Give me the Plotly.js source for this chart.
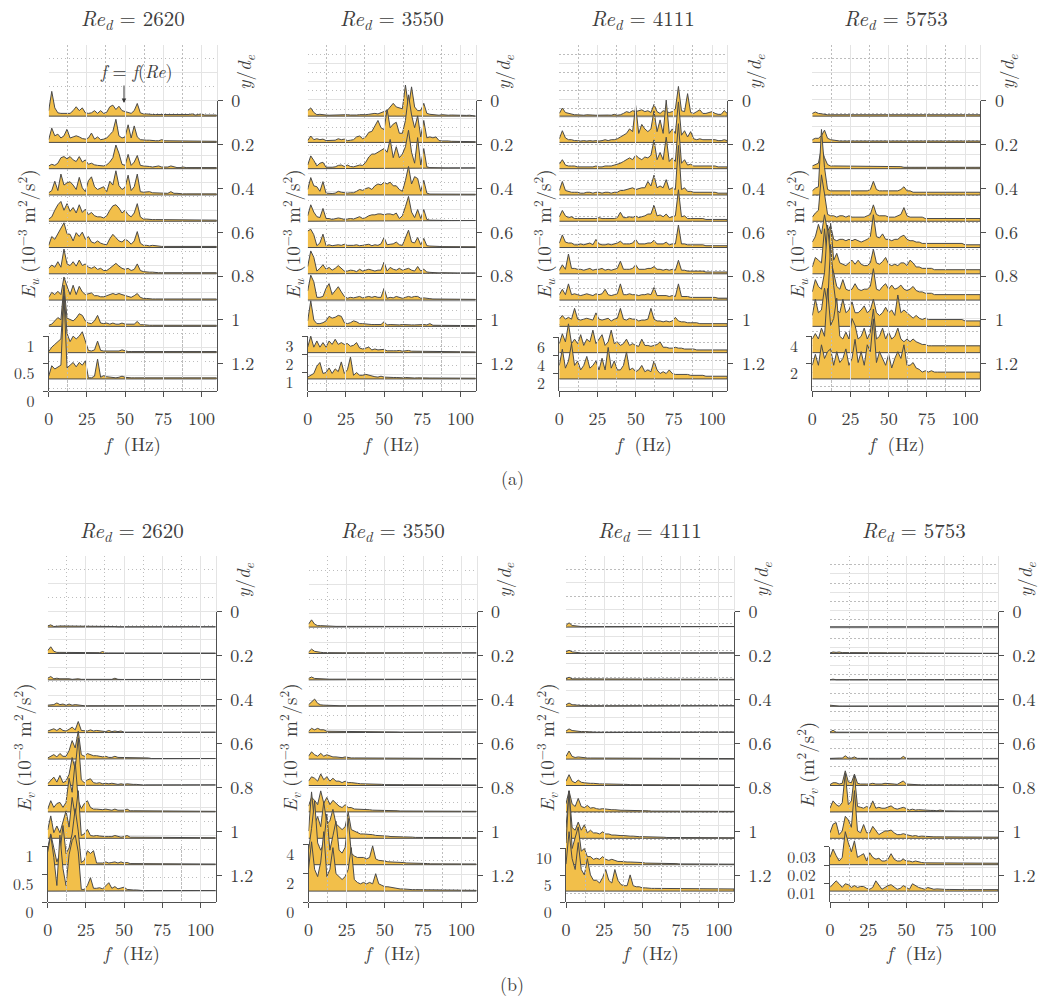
<!DOCTYPE html>
<html>
<head>
<meta charset="utf-8">
<script src="https://cdn.plot.ly/plotly-3.0.1.min.js"></script>
<style>html,body{margin:0;padding:0;background:#fff;}#chart{width:1041px;height:997px;}</style>
</head>
<body>
<div id="chart"></div>
<script>
// ---------------- DATA ----------------
const freq = [0,2,4,6,8,10,12,14,16,18,20,22,24,26,28,30,32,34,36,38,40,42,44,46,48,50,52,54,56,58,60,62,64,66,68,70,72,74,76,78,80,82,84,86,88,90,92,94,96,98,100,102,104,106,108,110];
const ydeRows = [0.07,0.19,0.31,0.43,0.55,0.67,0.79,0.91,1.03,1.15,1.27];
const reynolds = ['2620','3550','4111','5753'];
const ydeTickVals = [0,0.2,0.4,0.6,0.8,1,1.2];
const ydeTickText = ['0','0.2','0.4','0.6','0.8','1','1.2'];
const eTickVals = [[0,0.5,1],[1,2,3],[2,4,6],[2,4],[0,0.5,1],[0,2,4],[0,5,10],[0.01,0.02,0.03]];
const eTickText = [['0','0.5','1'],['1','2','3'],['2','4','6'],['2','4'],['0','0.5','1'],['0','2','4'],['0','5','10'],['0.01','0.02','0.03']];

// E_u, Re_d = 2620 (10^-3 m^2/s^2)
const Eu_2620 = [
[0.1,0.45,0.15,0.06,0.05,0.05,0.06,0.05,0.1,0.17, 0.1,0.15,0.06,0.05,0.06,0.1,0.05,0.1,0.05,0.07, 0.17,0.2,0.12,0.18,0.1,0.08,0.06,0.05,0.1,0.23, 0.06,0.04,0.04,0.03,0.03,0.03,0.03,0.03,0.02,0.03, 0.03,0.02,0.03,0.02,0.03,0.02,0.03,0.04,0.02,0.03, 0.04,0.02,0.02,0.02,0.02,0.02],
[0.05,0.26,0.12,0.15,0.08,0.12,0.24,0.08,0.1,0.12, 0.1,0.07,0.06,0.08,0.17,0.06,0.1,0.05,0.06,0.08, 0.14,0.2,0.42,0.12,0.08,0.1,0.32,0.08,0.3,0.1, 0.05,0.04,0.04,0.04,0.03,0.03,0.03,0.05,0.03,0.03, 0.03,0.02,0.03,0.02,0.02,0.03,0.02,0.02,0.02,0.02, 0.02,0.02,0.02,0.02,0.02,0.02],
[0.05,0.08,0.06,0.1,0.2,0.22,0.18,0.22,0.16,0.13, 0.22,0.12,0.16,0.08,0.1,0.07,0.06,0.06,0.05,0.07, 0.12,0.2,0.43,0.28,0.08,0.06,0.26,0.06,0.12,0.24, 0.06,0.05,0.05,0.04,0.03,0.04,0.05,0.03,0.03,0.03, 0.05,0.03,0.02,0.02,0.03,0.02,0.02,0.02,0.03,0.02, 0.02,0.02,0.02,0.02,0.02,0.02],
[0.04,0.08,0.25,0.08,0.38,0.18,0.22,0.24,0.18,0.1, 0.32,0.13,0.06,0.26,0.33,0.15,0.1,0.12,0.15,0.06, 0.25,0.18,0.44,0.17,0.1,0.14,0.36,0.08,0.15,0.38, 0.06,0.05,0.05,0.06,0.04,0.04,0.03,0.03,0.03,0.03, 0.06,0.03,0.03,0.02,0.02,0.02,0.02,0.02,0.02,0.02, 0.02,0.02,0.02,0.02,0.02,0.02],
[0.04,0.08,0.2,0.3,0.36,0.2,0.32,0.18,0.25,0.15, 0.3,0.16,0.22,0.12,0.16,0.1,0.08,0.08,0.06,0.1, 0.2,0.28,0.3,0.24,0.15,0.2,0.12,0.08,0.15,0.32, 0.08,0.04,0.04,0.03,0.03,0.03,0.03,0.03,0.02,0.02, 0.03,0.02,0.02,0.02,0.02,0.02,0.02,0.02,0.02,0.02, 0.02,0.02,0.02,0.02,0.02,0.02],
[0.04,0.2,0.15,0.25,0.33,0.45,0.25,0.24,0.12,0.27, 0.2,0.28,0.15,0.2,0.1,0.08,0.12,0.08,0.06,0.05, 0.16,0.24,0.18,0.12,0.1,0.15,0.12,0.06,0.12,0.29, 0.08,0.04,0.04,0.03,0.04,0.03,0.02,0.02,0.02,0.02, 0.03,0.02,0.02,0.02,0.02,0.02,0.02,0.02,0.02,0.02, 0.02,0.02,0.02,0.02,0.02,0.02],
[0.1,0.16,0.12,0.22,0.12,0.45,0.18,0.15,0.22,0.14, 0.25,0.15,0.18,0.12,0.1,0.13,0.08,0.1,0.06,0.06, 0.1,0.15,0.19,0.14,0.1,0.08,0.1,0.06,0.08,0.18, 0.06,0.04,0.03,0.03,0.03,0.02,0.02,0.02,0.02,0.02, 0.03,0.02,0.02,0.02,0.02,0.02,0.02,0.02,0.02,0.02, 0.02,0.02,0.02,0.02,0.02,0.02],
[0.05,0.14,0.1,0.16,0.1,0.42,0.25,0.1,0.27,0.1, 0.25,0.15,0.1,0.12,0.13,0.08,0.08,0.06,0.06,0.08, 0.1,0.12,0.1,0.12,0.1,0.08,0.06,0.05,0.08,0.12, 0.05,0.03,0.03,0.02,0.02,0.02,0.02,0.02,0.02,0.02, 0.02,0.02,0.02,0.02,0.02,0.02,0.02,0.02,0.02,0.02, 0.02,0.02,0.02,0.02,0.02,0.02],
[0.02,0.04,0.1,0.16,0.12,0.75,0.15,0.12,0.1,0.15, 0.23,0.2,0.1,0.06,0.05,0.1,0.2,0.06,0.05,0.06, 0.04,0.06,0.04,0.04,0.06,0.04,0.04,0.03,0.04,0.09, 0.03,0.03,0.02,0.02,0.02,0.02,0.02,0.03,0.02,0.02, 0.02,0.02,0.02,0.03,0.02,0.02,0.02,0.02,0.02,0.02, 0.02,0.02,0.02,0.02,0.02,0.02],
[0.02,0.1,0.15,0.2,0.25,1.1,0.35,0.2,0.3,0.25, 0.3,0.38,0.2,0.04,0.03,0.05,0.21,0.04,0.03,0.03, 0.03,0.03,0.03,0.03,0.05,0.03,0.02,0.02,0.02,0.02, 0.02,0.02,0.02,0.02,0.02,0.02,0.02,0.03,0.02,0.02, 0.02,0.02,0.02,0.02,0.02,0.02,0.02,0.02,0.02,0.02, 0.02,0.02,0.02,0.02,0.02,0.02],
[0.05,0.24,0.18,0.22,0.25,1.5,0.2,0.25,0.3,0.22, 0.3,0.25,0.33,0.02,0.02,0.05,0.36,0.03,0.06,0.04, 0.03,0.02,0.02,0.03,0.05,0.03,0.02,0.02,0.02,0.02, 0.02,0.02,0.02,0.02,0.02,0.02,0.02,0.02,0.02,0.02, 0.02,0.02,0.02,0.02,0.02,0.02,0.02,0.02,0.02,0.02, 0.02,0.02,0.02,0.02,0.02,0.02]
];

// E_u, Re_d = 3550 (10^-3 m^2/s^2)
const Eu_3550 = [
[0.3,0.45,0.2,0.08,0.1,0.06,0.06,0.05,0.06,0.05, 0.06,0.05,0.06,0.08,0.06,0.05,0.06,0.08,0.06,0.08, 0.1,0.12,0.15,0.12,0.2,0.25,0.3,0.5,0.7,0.5, 0.45,0.4,1.7,0.5,1.6,0.5,0.3,0.3,0.7,0.15, 0.1,0.08,0.06,0.05,0.08,0.05,0.05,0.06,0.05,0.05, 0.05,0.05,0.04,0.05,0.04,0.04],
[0.1,0.35,0.15,0.2,0.15,0.18,0.1,0.12,0.1,0.12, 0.2,0.15,0.18,0.1,0.12,0.15,0.3,0.35,0.2,0.3, 0.55,0.6,0.9,1.2,0.8,0.7,1.8,0.8,1.0,1.1, 0.5,0.5,1.2,2.6,1.5,0.8,1.45,0.3,1.2,0.25, 0.3,0.25,0.3,0.1,0.08,0.1,0.08,0.06,0.06,0.05, 0.06,0.05,0.05,0.04,0.05,0.04],
[0.2,0.7,0.45,0.15,0.3,0.35,0.08,0.06,0.08,0.1, 0.18,0.2,0.12,0.2,0.12,0.1,0.15,0.2,0.18,0.35, 0.64,0.8,0.8,0.9,1.0,1.1,0.9,1.6,0.6,1.2, 0.6,0.8,1.2,2.1,0.9,0.3,1.7,0.2,1.1,0.1, 0.06,0.05,0.05,0.04,0.05,0.04,0.04,0.04,0.04,0.04, 0.04,0.04,0.04,0.04,0.04,0.04],
[0.3,0.95,0.5,0.45,0.2,0.73,0.1,0.08,0.08,0.1, 0.2,0.15,0.12,0.1,0.12,0.12,0.2,0.3,0.25,0.35, 0.4,0.3,0.5,0.6,0.55,0.7,0.6,0.7,0.5,0.5, 0.3,0.2,0.8,1.56,0.6,1.0,0.9,0.2,0.8,0.1, 0.05,0.05,0.06,0.05,0.05,0.04,0.05,0.04,0.04,0.04, 0.04,0.04,0.04,0.04,0.04,0.04],
[0.3,0.9,0.5,0.25,0.2,0.7,0.15,0.15,0.1,0.12, 0.18,0.15,0.1,0.12,0.15,0.12,0.18,0.25,0.15,0.2, 0.3,0.35,0.35,0.4,0.4,0.35,0.4,0.4,0.35,0.45, 0.15,0.3,0.8,1.36,0.5,0.2,0.64,0.15,0.64,0.1, 0.06,0.05,0.05,0.05,0.04,0.05,0.04,0.04,0.04,0.04, 0.04,0.04,0.04,0.04,0.04,0.04],
[0.9,1.0,0.7,0.1,0.25,0.73,0.1,0.15,0.1,0.12, 0.15,0.12,0.18,0.12,0.1,0.12,0.15,0.1,0.12,0.15, 0.18,0.1,0.15,0.12,0.2,0.55,0.15,0.18,0.2,0.3, 0.15,0.12,0.5,0.95,0.3,0.25,0.55,0.15,0.5,0.1, 0.08,0.06,0.05,0.06,0.05,0.05,0.04,0.05,0.04,0.04, 0.04,0.04,0.04,0.04,0.04,0.04],
[0.4,1.25,0.9,0.15,0.3,0.5,0.25,0.35,0.2,0.3, 0.45,0.3,0.15,0.15,0.2,0.18,0.12,0.25,0.15,0.2, 0.25,0.2,0.15,0.2,0.2,0.64,0.15,0.35,0.25,0.2, 0.3,0.2,0.25,0.3,0.2,0.15,0.4,0.15,0.25,0.1, 0.08,0.06,0.06,0.05,0.06,0.05,0.05,0.05,0.04,0.04, 0.04,0.04,0.04,0.04,0.04,0.04],
[0.5,1.36,1.0,0.15,0.15,0.2,0.64,0.9,0.3,0.5, 0.73,0.45,0.2,0.1,0.15,0.12,0.15,0.2,0.12,0.15, 0.2,0.15,0.2,0.15,0.15,0.64,0.1,0.15,0.12,0.2, 0.15,0.1,0.15,0.2,0.15,0.2,0.2,0.1,0.12,0.08, 0.08,0.06,0.06,0.06,0.05,0.05,0.05,0.05,0.04,0.04, 0.04,0.04,0.04,0.04,0.04,0.04],
[0.3,1.4,0.35,0.15,0.15,0.2,0.3,0.55,0.45,0.5, 0.6,0.55,0.2,0.15,0.2,0.3,0.25,0.15,0.15,0.12, 0.12,0.1,0.1,0.08,0.1,0.25,0.08,0.1,0.08,0.1, 0.08,0.1,0.08,0.1,0.08,0.08,0.1,0.08,0.1,0.08, 0.15,0.06,0.06,0.08,0.05,0.05,0.05,0.05,0.05,0.05, 0.05,0.04,0.04,0.04,0.04,0.04],
[0.3,0.9,0.3,0.64,0.3,0.55,0.3,0.64,0.45,0.73, 0.45,0.55,0.45,0.5,0.35,0.4,0.55,0.25,0.2,0.25, 0.3,0.15,0.2,0.15,0.15,0.18,0.1,0.12,0.1,0.1, 0.12,0.08,0.1,0.12,0.08,0.08,0.06,0.06,0.06,0.06, 0.06,0.05,0.05,0.05,0.05,0.05,0.05,0.05,0.05,0.05, 0.05,0.05,0.05,0.04,0.04,0.04],
[0.1,0.2,0.3,0.7,0.9,0.3,0.35,0.6,0.3,0.55, 0.4,0.93,0.3,0.5,1.2,0.2,0.35,0.2,0.2,0.25, 0.2,0.15,0.12,0.1,0.15,0.1,0.08,0.1,0.08,0.08, 0.06,0.06,0.08,0.06,0.06,0.05,0.06,0.05,0.05,0.05, 0.05,0.05,0.05,0.05,0.05,0.05,0.05,0.05,0.05,0.05, 0.05,0.05,0.04,0.04,0.04,0.04]
];

// E_u, Re_d = 4111 (10^-3 m^2/s^2)
const Eu_4111 = [
[0.3,0.9,0.4,0.3,0.2,0.15,0.15,0.1,0.1,0.15, 0.1,0.12,0.1,0.12,0.15,0.1,0.12,0.1,0.2,0.1, 0.15,0.3,0.5,0.4,0.6,0.5,0.6,0.7,0.5,0.6, 0.4,1.3,0.5,0.3,0.6,0.5,0.4,0.5,0.8,3.3, 0.6,0.5,2.5,0.4,0.3,0.5,0.7,0.3,0.3,0.4, 0.5,0.3,0.2,0.2,0.6,0.3],
[0.4,1.3,0.5,0.3,0.3,0.2,0.2,0.15,0.2,0.15, 0.2,0.15,0.2,0.15,0.2,0.3,0.2,0.3,0.3,0.4, 0.6,0.8,1.0,1.5,1.2,4.1,1.0,2.0,1.5,1.2, 1.5,3.5,1.2,2.5,1.0,4.7,1.0,1.5,1.0,4.5, 0.8,1.3,0.6,1.2,0.4,0.3,0.4,0.3,0.3,0.3, 0.3,0.3,0.2,0.2,0.3,0.2],
[0.5,1.0,0.4,0.3,0.3,0.3,0.2,0.2,0.2,0.2, 0.2,0.2,0.3,0.2,0.2,0.3,0.3,0.3,0.4,0.5, 0.6,0.8,1.0,1.2,1.0,1.5,1.2,1.0,1.3,1.2, 1.5,3.2,1.0,1.8,1.0,3.5,0.8,1.2,0.8,5.0, 0.6,1.0,0.4,0.5,0.3,0.3,0.3,0.3,0.3,0.3, 0.3,0.3,0.2,0.2,0.2,0.2],
[0.5,1.5,0.5,0.4,0.3,0.3,0.3,0.2,0.2,0.3, 0.3,0.2,0.3,0.3,0.2,0.3,0.3,0.2,0.3,0.3, 0.5,0.5,0.6,0.7,0.8,0.6,0.7,0.8,0.8,1.5, 1.0,2.2,0.8,1.0,0.8,1.7,0.6,0.8,0.6,5.5, 0.6,0.8,0.4,0.4,0.3,0.3,0.3,0.3,0.3,0.3, 0.3,0.3,0.2,0.2,0.2,0.2],
[0.5,1.2,0.6,0.4,0.5,0.3,0.3,0.3,0.3,0.3, 0.3,0.3,0.3,0.4,0.3,0.3,0.3,0.3,0.3,0.4, 1.0,0.4,0.4,0.5,0.4,0.6,0.4,0.5,0.6,0.8, 0.8,1.8,0.6,0.7,0.5,0.8,0.4,0.5,0.6,3.5, 0.5,0.6,0.3,0.3,0.3,0.3,0.3,0.3,0.2,0.2, 0.2,0.2,0.2,0.2,0.2,0.2],
[0.5,1.4,0.6,0.5,0.5,0.3,0.3,0.4,0.3,0.4, 0.5,0.3,0.9,0.4,0.3,0.3,0.4,0.3,0.4,0.5, 0.7,0.4,0.4,0.4,0.5,0.9,0.4,0.4,0.4,0.5, 0.5,0.8,0.4,0.4,0.4,0.6,0.3,0.4,0.4,2.5, 0.4,0.4,0.3,0.3,0.3,0.3,0.3,0.3,0.2,0.2, 0.2,0.2,0.2,0.2,0.2,0.2],
[0.4,1.0,0.5,2.2,0.6,0.6,0.5,0.5,0.4,0.5, 0.6,0.4,0.5,0.5,0.6,0.4,0.5,0.4,0.5,0.6, 1.4,0.5,0.5,0.5,0.6,1.0,0.5,0.5,0.5,0.6, 0.6,0.8,0.5,0.5,0.4,0.5,0.4,0.5,0.4,1.5, 0.4,0.4,0.3,0.3,0.3,0.3,0.3,0.3,0.2,0.2, 0.2,0.2,0.2,0.2,0.2,0.2],
[0.6,1.2,0.6,1.8,0.6,0.7,0.6,0.5,0.6,0.7, 0.6,0.5,0.7,0.6,0.7,1.2,0.6,0.5,0.6,0.7, 1.8,0.6,0.6,0.7,0.6,0.6,0.5,0.6,0.6,0.7, 0.6,1.4,0.5,0.5,0.5,0.5,0.4,0.5,0.4,1.8, 0.4,0.4,0.4,0.3,0.3,0.3,0.3,0.3,0.3,0.3, 0.3,0.3,0.2,0.2,0.2,0.2],
[0.8,1.2,0.8,1.0,0.8,2.0,0.8,0.7,0.8,0.9, 0.8,0.7,1.5,0.8,0.7,0.8,0.9,0.6,0.8,0.9, 2.0,0.8,0.7,0.9,0.8,0.8,0.6,0.7,0.7,0.8, 2.0,0.8,0.6,0.6,0.5,0.6,0.5,0.6,1.0,0.6, 0.5,0.5,0.4,0.4,0.4,0.4,0.3,0.3,0.3,0.3, 0.3,0.3,0.3,0.3,0.3,0.3],
[1.0,2.1,1.2,3.2,1.0,1.5,1.0,2.0,0.8,1.5, 1.2,2.5,1.0,1.5,2.0,0.8,1.2,2.5,1.0,1.2, 0.8,1.0,1.5,0.8,1.0,0.8,0.7,1.5,0.8,0.8, 0.7,0.8,0.9,1.2,0.6,0.6,0.5,0.5,0.6,0.5, 0.5,0.4,0.4,0.4,0.4,0.3,0.3,0.3,0.3,0.3, 0.3,0.3,0.3,0.3,0.3,0.3],
[1.5,3.3,1.2,2.0,3.9,1.5,2.0,1.0,1.5,2.5, 1.2,1.5,2.0,1.0,2.3,1.0,3.5,1.2,2.0,1.0, 1.0,1.5,3.0,1.0,1.2,0.8,1.0,1.5,0.8,1.0, 0.8,2.0,1.0,0.6,0.8,0.6,1.0,0.6,0.5,0.5, 0.5,0.5,0.5,0.4,0.4,0.4,0.4,0.4,0.3,0.3, 0.3,0.3,0.3,0.3,0.3,0.3]
];

// E_u, Re_d = 5753 (10^-3 m^2/s^2)
const Eu_5753 = [
[0.2,0.3,0.2,0.15,0.1,0.1,0.1,0.1,0.1,0.1, 0.1,0.1,0.1,0.1,0.1,0.1,0.1,0.1,0.1,0.1, 0.1,0.1,0.1,0.1,0.1,0.1,0.1,0.1,0.1,0.1, 0.1,0.1,0.1,0.1,0.1,0.1,0.1,0.1,0.1,0.1, 0.1,0.1,0.1,0.1,0.1,0.1,0.1,0.1,0.1,0.1, 0.1,0.1,0.1,0.1,0.1,0.1],
[0.2,0.3,0.3,0.5,0.9,0.3,0.2,0.15,0.1,0.1, 0.1,0.1,0.1,0.1,0.1,0.1,0.1,0.1,0.1,0.1, 0.1,0.1,0.1,0.1,0.1,0.1,0.1,0.1,0.1,0.1, 0.1,0.1,0.1,0.1,0.1,0.1,0.1,0.1,0.1,0.1, 0.1,0.1,0.1,0.1,0.1,0.1,0.1,0.1,0.1,0.1, 0.1,0.1,0.1,0.1,0.1,0.1],
[0.2,0.3,0.4,1.5,0.8,0.3,0.2,0.2,0.2,0.2, 0.15,0.15,0.15,0.15,0.15,0.15,0.15,0.15,0.15,0.15, 0.15,0.15,0.15,0.15,0.15,0.15,0.15,0.15,0.15,0.15, 0.1,0.1,0.1,0.1,0.1,0.1,0.1,0.1,0.1,0.1, 0.1,0.1,0.1,0.1,0.1,0.1,0.1,0.1,0.1,0.1, 0.1,0.1,0.1,0.1,0.1,0.1],
[0.3,0.5,0.6,4.8,2.0,0.4,0.3,0.3,0.3,0.3, 0.3,0.3,0.3,0.3,0.3,0.3,0.3,0.3,0.3,0.4, 1.0,0.4,0.3,0.3,0.3,0.3,0.3,0.3,0.3,0.4, 0.6,0.3,0.3,0.2,0.2,0.2,0.2,0.2,0.2,0.2, 0.2,0.2,0.2,0.2,0.2,0.2,0.2,0.2,0.2,0.2, 0.2,0.2,0.2,0.2,0.2,0.2],
[0.3,0.6,0.8,3.4,2.0,0.5,0.4,0.4,0.3,0.4, 0.4,0.3,0.4,0.3,0.3,0.3,0.3,0.3,0.4,0.5, 1.2,0.5,0.4,0.4,0.4,0.3,0.3,0.3,0.4,0.5, 1.0,0.4,0.3,0.3,0.3,0.3,0.3,0.2,0.2,0.2, 0.2,0.2,0.2,0.2,0.2,0.2,0.2,0.2,0.2,0.2, 0.2,0.2,0.2,0.2,0.2,0.2],
[0.4,0.8,1.7,1.0,2.4,1.2,1.6,0.6,0.5,0.6, 0.6,0.5,0.6,0.5,0.6,0.5,0.4,0.5,0.6,0.8, 2.4,0.8,0.7,1.0,0.6,0.6,0.5,0.6,0.6,0.8, 0.9,0.6,0.5,0.5,0.4,0.4,0.3,0.3,0.3,0.3, 0.3,0.3,0.3,0.3,0.3,0.3,0.3,0.3,0.3,0.3, 0.2,0.2,0.2,0.2,0.2,0.2],
[0.5,1.2,1.0,0.8,3.3,1.0,3.7,1.0,1.5,0.8, 0.7,0.6,0.8,1.0,0.7,1.0,0.7,0.6,0.6,0.8, 1.8,0.8,0.7,0.9,1.2,0.7,0.6,0.7,0.6,0.8, 0.8,0.6,1.0,0.8,0.5,0.5,0.4,0.4,0.4,0.4, 0.3,0.3,0.3,0.3,0.3,0.3,0.3,0.3,0.3,0.3, 0.3,0.3,0.3,0.3,0.3,0.3],
[0.6,1.5,1.0,0.8,2.0,5.5,3.0,2.0,1.0,0.8, 1.5,0.8,0.7,0.8,1.2,0.8,0.7,0.8,0.8,1.0, 2.3,0.8,0.7,1.0,1.2,0.8,1.1,0.8,0.9,1.1, 0.8,0.7,0.8,1.0,0.7,0.6,0.6,0.5,0.5,0.5, 0.4,0.4,0.4,0.4,0.4,0.4,0.4,0.4,0.4,0.4, 0.4,0.4,0.4,0.4,0.4,0.4],
[0.8,2.0,1.0,1.2,2.8,1.5,6.0,3.0,1.2,1.0, 2.0,1.0,1.2,1.8,1.0,1.0,1.2,1.5,1.0,1.2, 2.0,1.0,0.8,1.0,1.4,1.0,1.2,0.8,2.3,1.0, 1.2,1.0,0.8,0.6,0.8,0.6,0.5,0.6,0.5,0.5, 0.5,0.5,0.5,0.5,0.5,0.5,0.5,0.5,0.5,0.5, 0.4,0.4,0.4,0.4,0.4,0.4],
[1.0,1.4,1.0,1.8,1.2,4.7,2.0,2.5,4.0,1.2, 1.0,1.5,1.0,2.5,2.0,1.0,1.2,1.8,1.0,1.5, 3.2,1.0,1.2,1.8,1.0,1.5,1.0,1.2,1.8,1.0, 0.8,1.0,0.8,1.0,0.8,0.7,0.6,0.6,0.5,0.5, 0.5,0.5,0.5,0.5,0.5,0.5,0.5,0.5,0.5,0.5, 0.5,0.5,0.5,0.5,0.5,0.5],
[1.0,1.8,1.0,2.5,1.5,2.0,2.2,1.0,2.0,1.2, 1.5,2.2,1.0,1.5,2.9,1.2,2.0,1.0,2.5,2.0, 4.4,1.2,2.0,1.5,1.0,1.8,0.8,1.5,2.0,1.5, 2.5,1.0,1.0,1.2,0.8,0.7,0.5,0.6,0.5,0.6, 0.5,0.5,0.5,0.5,0.5,0.5,0.5,0.5,0.5,0.5, 0.5,0.5,0.5,0.5,0.5,0.5]
];

// E_v, Re_d = 2620 (10^-3 m^2/s^2)
const Ev_2620 = [
[0.02,0.04,0.01,0.02,0.02,0.02,0.02,0.01,0.01,0.01, 0.01,0.01,0.01,0.01,0.01,0.01,0.01,0.01,0.01,0.01, 0.02,0.02,0.01,0.005,0.005,0.005,0.005,0.005,0.005,0.005, 0.005,0.005,0.005,0.005,0.005,0.005,0.005,0.005,0.005,0.005, 0.005,0.005,0.005,0.005,0.005,0.005,0.005,0.005,0.005,0.005, 0.005,0.005,0.005,0.005,0.005,0.005],
[0.05,0.12,0.04,0.02,0.02,0.02,0.015,0.015,0.01,0.01, 0.01,0.01,0.01,0.01,0.01,0.01,0.01,0.015,0.035,0.01, 0.01,0.01,0.008,0.008,0.008,0.008,0.008,0.008,0.008,0.008, 0.008,0.008,0.008,0.008,0.008,0.008,0.008,0.008,0.008,0.008, 0.008,0.008,0.008,0.02,0.008,0.008,0.008,0.008,0.008,0.008, 0.008,0.008,0.008,0.008,0.008,0.008],
[0.03,0.06,0.02,0.03,0.02,0.02,0.03,0.02,0.01,0.02, 0.02,0.01,0.01,0.01,0.01,0.01,0.01,0.01,0.01,0.01, 0.01,0.01,0.03,0.01,0.008,0.008,0.008,0.008,0.008,0.008, 0.008,0.008,0.008,0.008,0.008,0.008,0.008,0.008,0.008,0.008, 0.008,0.008,0.008,0.008,0.008,0.008,0.008,0.008,0.008,0.008, 0.008,0.008,0.008,0.008,0.008,0.008],
[0.02,0.03,0.03,0.06,0.03,0.04,0.02,0.04,0.02,0.03, 0.02,0.02,0.01,0.01,0.01,0.01,0.01,0.01,0.01,0.01, 0.01,0.01,0.01,0.01,0.008,0.008,0.008,0.008,0.008,0.008, 0.008,0.008,0.008,0.008,0.008,0.008,0.008,0.008,0.008,0.008, 0.008,0.008,0.008,0.008,0.008,0.008,0.008,0.008,0.008,0.008, 0.008,0.008,0.008,0.008,0.008,0.008],
[0.03,0.05,0.07,0.04,0.08,0.04,0.03,0.06,0.1,0.05, 0.2,0.04,0.03,0.03,0.05,0.03,0.04,0.03,0.02,0.02, 0.04,0.02,0.03,0.02,0.03,0.01,0.01,0.01,0.01,0.01, 0.008,0.008,0.008,0.008,0.008,0.008,0.008,0.008,0.008,0.008, 0.008,0.008,0.008,0.008,0.008,0.008,0.008,0.008,0.008,0.008, 0.008,0.008,0.008,0.008,0.008,0.008],
[0.02,0.05,0.08,0.04,0.1,0.05,0.05,0.15,0.33,0.2, 0.5,0.08,0.05,0.1,0.08,0.06,0.06,0.05,0.04,0.05, 0.03,0.03,0.05,0.03,0.03,0.02,0.02,0.02,0.02,0.02, 0.02,0.02,0.02,0.02,0.01,0.01,0.01,0.01,0.01,0.01, 0.01,0.01,0.01,0.01,0.01,0.01,0.01,0.01,0.01,0.01, 0.01,0.01,0.01,0.01,0.01,0.01],
[0.03,0.1,0.15,0.06,0.18,0.05,0.08,0.2,0.5,0.3, 0.85,0.1,0.05,0.1,0.12,0.05,0.04,0.05,0.03,0.04, 0.03,0.04,0.03,0.02,0.03,0.02,0.03,0.02,0.02,0.02, 0.01,0.01,0.01,0.01,0.01,0.01,0.01,0.01,0.01,0.01, 0.01,0.01,0.01,0.01,0.01,0.01,0.01,0.01,0.01,0.01, 0.01,0.01,0.01,0.01,0.01,0.01],
[0.05,0.2,0.08,0.15,0.17,0.08,0.17,0.6,0.35,0.9, 0.2,0.06,0.15,0.2,0.08,0.05,0.05,0.04,0.04,0.05, 0.04,0.03,0.05,0.03,0.03,0.03,0.05,0.02,0.02,0.02, 0.02,0.01,0.01,0.01,0.01,0.01,0.01,0.01,0.01,0.01, 0.01,0.01,0.01,0.01,0.01,0.01,0.01,0.01,0.01,0.01, 0.01,0.01,0.01,0.01,0.01,0.01],
[0.15,0.4,0.1,0.22,0.1,0.3,0.49,0.2,0.73,0.4, 0.85,0.05,0.08,0.16,0.05,0.04,0.05,0.04,0.03,0.03, 0.03,0.03,0.05,0.03,0.02,0.03,0.05,0.02,0.02,0.02, 0.01,0.01,0.01,0.01,0.01,0.01,0.01,0.01,0.01,0.01, 0.01,0.01,0.01,0.01,0.01,0.01,0.01,0.01,0.01,0.01, 0.01,0.01,0.01,0.01,0.01,0.01],
[0.3,0.55,0.3,0.05,0.2,0.7,0.2,0.3,0.55,1.0, 0.6,0.04,0.08,0.25,0.2,0.25,0.03,0.03,0.03,0.05, 0.03,0.04,0.05,0.03,0.05,0.03,0.04,0.02,0.02,0.02, 0.01,0.01,0.01,0.01,0.01,0.01,0.01,0.01,0.01,0.01, 0.01,0.01,0.01,0.01,0.01,0.01,0.01,0.01,0.01,0.01, 0.01,0.01,0.01,0.01,0.01,0.01],
[0.7,1.0,0.6,0.1,1.0,0.4,0.1,0.65,0.9,1.0, 0.7,0.03,0.03,0.1,0.24,0.05,0.05,0.06,0.04,0.1, 0.15,0.05,0.08,0.04,0.05,0.07,0.03,0.02,0.02,0.02, 0.01,0.01,0.01,0.01,0.01,0.01,0.01,0.01,0.01,0.01, 0.01,0.01,0.01,0.01,0.01,0.01,0.01,0.01,0.01,0.01, 0.01,0.01,0.01,0.01,0.01,0.01]
];

// E_v, Re_d = 3550 (10^-3 m^2/s^2)
const Ev_3550 = [
[0.2,0.5,0.2,0.1,0.1,0.08,0.06,0.05,0.05,0.05, 0.05,0.05,0.05,0.05,0.05,0.05,0.05,0.05,0.05,0.05, 0.05,0.05,0.05,0.05,0.05,0.05,0.05,0.05,0.05,0.05, 0.04,0.04,0.04,0.04,0.04,0.04,0.04,0.04,0.04,0.04, 0.04,0.04,0.04,0.04,0.04,0.04,0.04,0.04,0.04,0.04, 0.04,0.04,0.04,0.04,0.04,0.04],
[0.1,0.3,0.15,0.1,0.08,0.06,0.05,0.05,0.05,0.05, 0.05,0.05,0.05,0.05,0.05,0.05,0.05,0.05,0.05,0.05, 0.05,0.05,0.05,0.05,0.05,0.05,0.05,0.05,0.05,0.05, 0.04,0.04,0.04,0.04,0.04,0.04,0.04,0.04,0.04,0.04, 0.04,0.04,0.04,0.04,0.04,0.04,0.04,0.04,0.04,0.04, 0.04,0.04,0.04,0.04,0.04,0.04],
[0.1,0.2,0.1,0.08,0.06,0.06,0.05,0.05,0.05,0.05, 0.04,0.04,0.04,0.04,0.04,0.04,0.04,0.04,0.04,0.04, 0.04,0.04,0.04,0.04,0.04,0.04,0.04,0.04,0.04,0.04, 0.04,0.04,0.04,0.04,0.04,0.04,0.04,0.04,0.04,0.04, 0.04,0.04,0.04,0.04,0.04,0.04,0.04,0.04,0.04,0.04, 0.04,0.04,0.04,0.04,0.04,0.04],
[0.1,0.3,0.5,0.2,0.1,0.08,0.06,0.06,0.05,0.05, 0.04,0.04,0.04,0.04,0.04,0.04,0.04,0.04,0.04,0.04, 0.04,0.04,0.04,0.04,0.04,0.04,0.04,0.04,0.04,0.04, 0.04,0.04,0.04,0.04,0.04,0.04,0.04,0.04,0.04,0.04, 0.04,0.04,0.04,0.04,0.04,0.04,0.04,0.04,0.04,0.04, 0.04,0.04,0.04,0.04,0.04,0.04],
[0.1,0.3,0.2,0.3,0.2,0.2,0.1,0.1,0.08,0.08, 0.06,0.06,0.06,0.06,0.06,0.06,0.06,0.06,0.06,0.06, 0.05,0.05,0.05,0.05,0.05,0.05,0.05,0.05,0.05,0.05, 0.04,0.04,0.04,0.04,0.04,0.04,0.04,0.04,0.04,0.04, 0.04,0.04,0.04,0.04,0.04,0.04,0.04,0.04,0.04,0.04, 0.04,0.04,0.04,0.04,0.04,0.04],
[0.2,0.5,0.3,0.2,0.4,0.2,0.3,0.2,0.15,0.15, 0.1,0.1,0.15,0.1,0.08,0.08,0.08,0.06,0.06,0.06, 0.05,0.05,0.05,0.05,0.05,0.05,0.05,0.05,0.05,0.05, 0.04,0.04,0.04,0.04,0.04,0.04,0.04,0.04,0.04,0.04, 0.04,0.04,0.04,0.04,0.04,0.04,0.04,0.04,0.04,0.04, 0.04,0.04,0.04,0.04,0.04,0.04],
[0.3,0.6,0.5,0.3,0.8,0.4,0.6,0.3,0.5,0.3, 0.3,0.2,0.3,0.2,0.2,0.15,0.15,0.12,0.12,0.1, 0.1,0.1,0.08,0.08,0.08,0.06,0.06,0.06,0.06,0.06, 0.05,0.05,0.05,0.05,0.05,0.05,0.05,0.05,0.05,0.05, 0.04,0.04,0.04,0.04,0.04,0.04,0.04,0.04,0.04,0.04, 0.04,0.04,0.04,0.04,0.04,0.04],
[0.4,1.0,0.8,0.5,1.45,0.6,1.0,0.5,0.8,0.6, 0.4,0.3,0.5,0.3,0.3,0.2,0.2,0.2,0.15,0.15, 0.15,0.12,0.12,0.1,0.1,0.1,0.08,0.08,0.08,0.08, 0.06,0.06,0.06,0.06,0.05,0.05,0.05,0.05,0.05,0.05, 0.05,0.05,0.04,0.04,0.04,0.04,0.04,0.04,0.04,0.04, 0.04,0.04,0.04,0.04,0.04,0.04],
[0.5,3.2,1.0,1.5,0.8,2.5,1.0,1.2,2.0,1.0, 0.8,0.6,0.8,1.8,0.6,0.5,0.4,0.3,0.3,0.3, 0.3,0.25,0.2,0.2,0.2,0.15,0.15,0.12,0.12,0.1, 0.1,0.1,0.08,0.08,0.08,0.06,0.06,0.06,0.06,0.06, 0.05,0.05,0.05,0.05,0.05,0.05,0.05,0.05,0.05,0.05, 0.04,0.04,0.04,0.04,0.04,0.04],
[1.0,2.5,4.4,1.5,1.0,1.5,3.5,1.0,2.0,3.0, 1.0,0.8,1.2,3.2,0.8,0.6,0.5,0.5,0.5,0.4, 0.5,1.3,0.4,0.3,0.3,0.25,0.2,0.2,0.2,0.2, 0.15,0.15,0.12,0.12,0.1,0.1,0.1,0.08,0.08,0.08, 0.06,0.06,0.06,0.06,0.05,0.05,0.05,0.05,0.05,0.05, 0.05,0.05,0.05,0.05,0.05,0.05],
[1.5,3.4,1.5,1.0,2.0,4.1,1.0,1.5,3.0,1.2, 1.0,0.8,1.0,1.5,3.0,0.8,0.6,0.5,0.6,0.5, 0.6,0.5,1.2,0.5,0.4,0.3,0.3,0.25,0.2,0.2, 0.15,0.15,0.12,0.12,0.1,0.1,0.1,0.08,0.08,0.08, 0.06,0.06,0.06,0.06,0.05,0.05,0.05,0.05,0.05,0.05, 0.05,0.05,0.05,0.05,0.05,0.05]
];

// E_v, Re_d = 4111 (10^-3 m^2/s^2)
const Ev_4111 = [
[0.3,0.8,0.3,0.2,0.15,0.1,0.1,0.1,0.1,0.1, 0.1,0.1,0.1,0.1,0.1,0.1,0.1,0.1,0.1,0.1, 0.1,0.1,0.1,0.1,0.1,0.1,0.1,0.1,0.1,0.1, 0.1,0.1,0.1,0.1,0.1,0.1,0.1,0.1,0.1,0.1, 0.1,0.1,0.1,0.1,0.1,0.1,0.1,0.1,0.1,0.1, 0.1,0.1,0.1,0.1,0.1,0.1],
[0.3,0.6,0.3,0.2,0.15,0.1,0.1,0.1,0.1,0.1, 0.1,0.1,0.1,0.1,0.1,0.1,0.1,0.1,0.1,0.1, 0.1,0.1,0.1,0.1,0.1,0.1,0.1,0.1,0.1,0.1, 0.1,0.1,0.1,0.1,0.1,0.1,0.1,0.1,0.1,0.1, 0.1,0.1,0.1,0.1,0.1,0.1,0.1,0.1,0.1,0.1, 0.1,0.1,0.1,0.1,0.1,0.1],
[0.2,0.5,0.2,0.2,0.15,0.1,0.1,0.1,0.1,0.1, 0.1,0.1,0.1,0.1,0.1,0.1,0.1,0.1,0.1,0.1, 0.1,0.1,0.1,0.1,0.1,0.1,0.1,0.1,0.1,0.1, 0.1,0.1,0.1,0.1,0.1,0.1,0.1,0.1,0.1,0.1, 0.1,0.1,0.1,0.1,0.1,0.1,0.1,0.1,0.1,0.1, 0.1,0.1,0.1,0.1,0.1,0.1],
[0.3,0.6,0.3,0.2,0.2,0.15,0.1,0.1,0.1,0.1, 0.1,0.1,0.1,0.1,0.1,0.1,0.1,0.1,0.1,0.1, 0.1,0.1,0.1,0.1,0.1,0.1,0.1,0.1,0.1,0.1, 0.1,0.1,0.1,0.1,0.1,0.1,0.1,0.1,0.1,0.1, 0.1,0.1,0.1,0.1,0.1,0.1,0.1,0.1,0.1,0.1, 0.1,0.1,0.1,0.1,0.1,0.1],
[0.3,0.7,0.4,0.3,0.3,0.2,0.2,0.15,0.15,0.1, 0.1,0.1,0.1,0.1,0.1,0.1,0.1,0.1,0.1,0.1, 0.1,0.1,0.1,0.1,0.1,0.1,0.1,0.1,0.1,0.1, 0.1,0.1,0.1,0.1,0.1,0.1,0.1,0.1,0.1,0.1, 0.1,0.1,0.1,0.1,0.1,0.1,0.1,0.1,0.1,0.1, 0.1,0.1,0.1,0.1,0.1,0.1],
[0.5,1.5,0.5,0.3,0.4,0.3,0.3,0.2,0.2,0.2, 0.2,0.2,0.2,0.2,0.2,0.15,0.15,0.15,0.15,0.15, 0.15,0.1,0.1,0.1,0.1,0.1,0.1,0.1,0.1,0.1, 0.1,0.1,0.1,0.1,0.1,0.1,0.1,0.1,0.1,0.1, 0.1,0.1,0.1,0.1,0.1,0.1,0.1,0.1,0.1,0.1, 0.1,0.1,0.1,0.1,0.1,0.1],
[0.8,2.0,0.8,0.5,1.0,0.6,0.5,0.4,0.4,0.4, 0.3,0.3,0.3,0.3,0.3,0.2,0.2,0.2,0.2,0.2, 0.2,0.15,0.15,0.15,0.15,0.1,0.1,0.1,0.1,0.1, 0.1,0.1,0.1,0.1,0.1,0.1,0.1,0.1,0.1,0.1, 0.1,0.1,0.1,0.1,0.1,0.1,0.1,0.1,0.1,0.1, 0.1,0.1,0.1,0.1,0.1,0.1],
[1.5,3.9,1.5,1.0,2.5,1.0,0.8,1.2,0.7,0.8, 0.6,0.5,0.6,0.5,0.5,0.4,0.4,0.3,0.3,0.3, 0.3,0.3,0.25,0.25,0.2,0.2,0.2,0.2,0.15,0.15, 0.15,0.15,0.15,0.1,0.1,0.1,0.1,0.1,0.1,0.1, 0.1,0.1,0.1,0.1,0.1,0.1,0.1,0.1,0.1,0.1, 0.1,0.1,0.1,0.1,0.1,0.1],
[2.0,8.7,2.0,1.5,3.0,1.5,2.5,1.0,1.5,1.0, 1.0,0.8,1.2,0.8,0.8,0.6,0.6,0.5,0.5,0.5, 0.4,0.4,0.4,0.3,0.3,0.3,0.3,0.25,0.25,0.2, 0.2,0.2,0.2,0.15,0.15,0.15,0.15,0.1,0.1,0.1, 0.1,0.1,0.1,0.1,0.1,0.1,0.1,0.1,0.1,0.1, 0.1,0.1,0.1,0.1,0.1,0.1],
[4.0,13.7,3.0,5.0,7.0,2.5,3.0,1.5,1.5,1.0, 1.2,1.0,1.5,1.0,0.8,1.0,0.8,0.6,0.6,0.5, 0.5,0.5,0.5,0.4,0.4,0.4,0.3,0.3,0.3,0.3, 0.3,0.25,0.25,0.2,0.2,0.2,0.2,0.15,0.15,0.15, 0.15,0.15,0.1,0.1,0.1,0.1,0.1,0.1,0.1,0.1, 0.1,0.1,0.1,0.1,0.1,0.1],
[5.0,11.0,6.0,4.0,9.0,4.0,3.0,6.0,3.0,2.0, 2.0,1.5,2.5,4.0,2.0,1.5,4.0,2.0,1.2,1.0, 1.0,3.0,1.0,0.8,0.8,0.6,0.6,0.5,0.5,0.5, 0.5,0.5,0.4,0.4,0.4,0.4,0.4,0.4,0.4,0.4, 0.4,0.4,0.4,0.4,0.4,0.4,0.4,0.4,0.4,0.4, 0.4,0.4,0.4,0.4,0.4,0.4]
];

// E_v, Re_d = 5753 (m^2/s^2)
const Ev_5753 = [
[0.0001,0.0001,0.0001,0.0001,0.0001,0.0001,0.0001,0.0001,0.0001,0.0001, 0.0001,0.0001,0.0001,0.0001,0.0001,0.0001,0.0001,0.0001,0.0001,0.0001, 0.0001,0.0001,0.0001,0.0001,0.0001,0.0001,0.0001,0.0001,0.0001,0.0001, 0.0001,0.0001,0.0001,0.0001,0.0001,0.0001,0.0001,0.0001,0.0001,0.0001, 0.0001,0.0001,0.0001,0.0001,0.0001,0.0001,0.0001,0.0001,0.0001,0.0001, 0.0001,0.0001,0.0001,0.0001,0.0001,0.0001],
[0.0003,0.0008,0.0006,0.0008,0.0005,0.0005,0.0003,0.0003,0.0003,0.0002, 0.0001,0.0001,0.0001,0.0001,0.0001,0.0001,0.0001,0.0001,0.0001,0.0001, 0.0001,0.0001,0.0001,0.0001,0.0001,0.0001,0.0001,0.0001,0.0001,0.0001, 0.0001,0.0001,0.0001,0.0001,0.0001,0.0001,0.0001,0.0001,0.0001,0.0001, 0.0001,0.0001,0.0001,0.0001,0.0001,0.0001,0.0001,0.0001,0.0001,0.0001, 0.0001,0.0001,0.0001,0.0001,0.0001,0.0001],
[0.0001,0.0004,0.0001,0.0001,0.0001,0.0001,0.0001,0.0001,0.0001,0.0001, 0.0001,0.0001,0.0001,0.0001,0.0001,0.0001,0.0001,0.0001,0.0001,0.0001, 0.0001,0.0001,0.0001,0.0001,0.0001,0.0001,0.0001,0.0001,0.0001,0.0001, 0.0003,0.0001,0.0001,0.0001,0.0001,0.0001,0.0001,0.0001,0.0001,0.0001, 0.0001,0.0001,0.0001,0.0001,0.0001,0.0001,0.0001,0.0001,0.0001,0.0001, 0.0001,0.0001,0.0001,0.0001,0.0001,0.0001],
[0.0006,0.0003,0.0001,0.0001,0.0001,0.0001,0.0001,0.0001,0.0001,0.0001, 0.0001,0.0001,0.0001,0.0001,0.0001,0.0001,0.0001,0.0001,0.0001,0.0001, 0.0001,0.0001,0.0001,0.0001,0.0001,0.0001,0.0001,0.0001,0.0001,0.0001, 0.0001,0.0001,0.0001,0.0001,0.0001,0.0001,0.0001,0.0001,0.0001,0.0001, 0.0001,0.0001,0.0001,0.0001,0.0001,0.0001,0.0001,0.0001,0.0001,0.0001, 0.0001,0.0001,0.0001,0.0001,0.0001,0.0001],
[0.0004,0.0013,0.0003,0.0003,0.0002,0.0005,0.0003,0.0002,0.0002,0.0002, 0.0002,0.0002,0.0002,0.0002,0.0002,0.0002,0.0002,0.0002,0.0002,0.0002, 0.0002,0.0002,0.0002,0.0002,0.0005,0.0002,0.0002,0.0002,0.0002,0.0002, 0.0001,0.0001,0.0001,0.0001,0.0001,0.0001,0.0001,0.0001,0.0001,0.0001, 0.0001,0.0001,0.0001,0.0001,0.0001,0.0001,0.0001,0.0001,0.0001,0.0001, 0.0001,0.0001,0.0001,0.0001,0.0001,0.0001],
[0.0003,0.0005,0.0004,0.0005,0.0005,0.0018,0.0006,0.0005,0.0012,0.0003, 0.0003,0.0002,0.0002,0.0002,0.0002,0.0002,0.0002,0.0002,0.0002,0.0002, 0.0002,0.0002,0.0002,0.0002,0.0015,0.0003,0.0002,0.0002,0.0002,0.0002, 0.0002,0.0002,0.0002,0.0002,0.0002,0.0002,0.0002,0.0002,0.0002,0.0002, 0.0002,0.0002,0.0002,0.0002,0.0002,0.0002,0.0002,0.0002,0.0002,0.0002, 0.0002,0.0002,0.0002,0.0002,0.0002,0.0002],
[0.0005,0.0015,0.0015,0.0008,0.0012,0.008,0.002,0.0015,0.0062,0.0012, 0.0008,0.0006,0.0008,0.0008,0.0012,0.0008,0.0006,0.0008,0.0012,0.0012, 0.001,0.0008,0.0006,0.0015,0.0025,0.0008,0.0006,0.0004,0.0005,0.0004, 0.0003,0.0003,0.0003,0.0003,0.0002,0.0002,0.0002,0.0002,0.0002,0.0002, 0.0002,0.0002,0.0002,0.0002,0.0002,0.0002,0.0002,0.0002,0.0002,0.0002, 0.0002,0.0002,0.0002,0.0002,0.0002,0.0002],
[0.002,0.006,0.004,0.003,0.005,0.021,0.004,0.006,0.02,0.003, 0.0025,0.002,0.003,0.002,0.006,0.002,0.0025,0.002,0.002,0.0025, 0.0033,0.002,0.0015,0.002,0.0025,0.0018,0.001,0.0015,0.001,0.0012, 0.001,0.0008,0.001,0.0008,0.0008,0.0006,0.001,0.0006,0.0005,0.0005, 0.0004,0.0004,0.0004,0.0004,0.0004,0.0004,0.0004,0.0004,0.0004,0.0004, 0.0004,0.0004,0.0004,0.0004,0.0004,0.0004],
[0.003,0.0077,0.0086,0.002,0.004,0.012,0.01,0.006,0.026,0.004, 0.003,0.0075,0.003,0.003,0.0065,0.004,0.002,0.003,0.004,0.004, 0.0045,0.003,0.002,0.002,0.0025,0.002,0.0015,0.0012,0.0015,0.001, 0.0012,0.001,0.0012,0.001,0.0008,0.0008,0.0008,0.0007,0.0007,0.0006, 0.0006,0.0006,0.0006,0.0006,0.0006,0.0006,0.0006,0.0006,0.0006,0.0006, 0.0006,0.0006,0.0006,0.0006,0.0006,0.0006],
[0.004,0.0085,0.005,0.002,0.004,0.018,0.012,0.007,0.013,0.004, 0.005,0.006,0.002,0.0065,0.004,0.003,0.0035,0.002,0.002,0.003, 0.006,0.003,0.002,0.002,0.003,0.002,0.002,0.0015,0.002,0.0015, 0.0012,0.001,0.001,0.001,0.0009,0.0009,0.0008,0.0008,0.0008,0.0008, 0.0008,0.0008,0.0008,0.0008,0.0008,0.0008,0.0008,0.0008,0.0008,0.0008, 0.0008,0.0008,0.0008,0.0008,0.0008,0.0008],
[0.002,0.004,0.0056,0.004,0.002,0.004,0.0035,0.002,0.003,0.002, 0.0025,0.0025,0.0015,0.001,0.002,0.0056,0.003,0.001,0.002,0.003, 0.0035,0.002,0.001,0.0015,0.003,0.002,0.001,0.004,0.003,0.002, 0.0015,0.001,0.002,0.0015,0.001,0.0012,0.001,0.001,0.0009,0.0009, 0.0008,0.0008,0.0008,0.0008,0.0008,0.0008,0.0008,0.0008,0.0008,0.0008, 0.0008,0.0008,0.0008,0.0008,0.0008,0.0008]
];

// ---------------- STYLE / LAYOUT ----------------
const W = 1041, H = 997;
const FONT = "'Latin Modern Roman','CMU Serif','Liberation Serif','DejaVu Serif',serif";
const TXT = '#3d3d3d';
const SPINE = '#505050';
const GRID = '#e4e4e4';
const MINOR = '#bdbdbd';
const MINOR_DASH = '1.5px,2.5px';
const FILL = '#F2BF4A';
const LINE = '#4a4a4a';
const PW = 168; // panel width px (0..110 Hz)

const rowsGeom = {
  a: {top:45, bottom:391, yde0:100.8, ydePx:219, titleY:18, xTitleY:443, ydeLabY:72, eLabY:234, cap:'(a)', capY:477},
  b: {top:555.5, bottom:902, yde0:611.7, ydePx:220, titleY:530, xTitleY:952, ydeLabY:580, eLabY:748, cap:'(b)', capY:983}
};
const EU = '<i>E</i><sub><i>u</i></sub> (10<sup>−3</sup> m<sup>2</sup>/s<sup>2</sup>)';
const EV = '<i>E</i><sub><i>v</i></sub> (10<sup>−3</sup> m<sup>2</sup>/s<sup>2</sup>)';
const EV2 = '<i>E</i><sub><i>v</i></sub> (m<sup>2</sup>/s<sup>2</sup>)';
const panels = [
  {row:'a', re:reynolds[0], data:Eu_2620, left:48.7,  ppu:55,    grid:0.5,  lab:EU, labX:27},
  {row:'a', re:reynolds[1], data:Eu_3550, left:307.7, ppu:18.3,  grid:1,    lab:EU, labX:292},
  {row:'a', re:reynolds[2], data:Eu_4111, left:559.3, ppu:9,     grid:2,    lab:EU, labX:543},
  {row:'a', re:reynolds[3], data:Eu_5753, left:812.3, ppu:13.65, grid:2,    lab:EU, labX:796},
  {row:'b', re:reynolds[0], data:Ev_2620, left:47.7,  ppu:56,    grid:0.5,  lab:EV, labX:23},
  {row:'b', re:reynolds[1], data:Ev_3550, left:308.5, ppu:14.5,  grid:2,    lab:EV, labX:289},
  {row:'b', re:reynolds[2], data:Ev_4111, left:566,   ppu:5.4,   grid:5,    lab:EV, labX:546},
  {row:'b', re:reynolds[3], data:Ev_5753, left:830,   ppu:1835,  grid:0.01, lab:EV2, labX:806, labY:765}
];

const layout = {
  width:W, height:H, margin:{l:0,r:0,t:0,b:0},
  paper_bgcolor:'#ffffff', plot_bgcolor:'rgba(0,0,0,0)',
  showlegend:false, font:{family:FONT, color:TXT, size:18},
  annotations:[]
};
const traces = [];
const bad = [];
const tickFont = {family:FONT, color:TXT, size:18};
const leftTickFont = {family:FONT, color:TXT, size:16};

panels.forEach((p, i) => {
  const g = rowsGeom[p.row];
  const n = i + 1;
  const xName = n === 1 ? 'xaxis' : 'xaxis' + n;
  const xRef = n === 1 ? 'x' : 'x' + n;
  const yName = n === 1 ? 'yaxis' : 'yaxis' + n;
  const yRef = n === 1 ? 'y' : 'y' + n;
  const h = g.bottom - g.top;
  const Etop = h / p.ppu;
  const Ybot = (g.bottom - g.yde0) / g.ydePx;
  const Ytop = (g.top - g.yde0) / g.ydePx;
  const yB = 1 - g.bottom / H, yT = 1 - g.top / H;
  const x0 = p.left / W, x1 = (p.left + PW) / W;
  const tv = eTickVals[i], tt = eTickText[i];
  const tickTop = Math.max.apply(null, tv);

  layout[xName] = {
    domain:[x0, x1], anchor:yRef, range:[0,110], autorange:false, fixedrange:true,
    tick0:0, dtick:25, ticks:'outside', ticklen:5, tickcolor:SPINE, tickwidth:1,
    showline:true, linecolor:SPINE, linewidth:1, zeroline:false,
    showgrid:true, gridcolor:GRID, gridwidth:1,
    minor:{tick0:0, dtick:12.5, showgrid:true, gridcolor:MINOR, griddash:MINOR_DASH, gridwidth:1, ticks:''},
    tickfont:tickFont, ticklabelstandoff:6
  };
  layout[yName] = {
    domain:[yB, yT], anchor:xRef, range:[0, Etop], autorange:false, fixedrange:true,
    showticklabels:false, ticks:'', showline:false, zeroline:false,
    tick0:Etop, dtick:p.grid, showgrid:true, gridcolor:GRID, gridwidth:1,
    minor:{tick0:Etop, dtick:p.grid/2, showgrid:true, gridcolor:MINOR, griddash:MINOR_DASH, gridwidth:1, ticks:''}
  };
  const nE = n + 8, nR = n + 16, nF = n + 24;
  // left E scale (partial spine), labels sit a little below their ticks as in the reference
  layout['yaxis' + nE] = {
    domain:[yB, yB + (tickTop / Etop) * (h / H)], anchor:xRef, side:'left',
    range:[0, tickTop], autorange:false, fixedrange:true,
    tickmode:'array', tickvals:tv, ticktext:tt, ticks:'outside', ticklen:5, tickcolor:SPINE,
    showline:true, linecolor:SPINE, linewidth:1, showgrid:false, zeroline:false,
    tickfont:leftTickFont, ticklabelshift:10, ticklabelstandoff:5
  };
  // right y/d_e scale (partial spine)
  layout['yaxis' + nR] = {
    domain:[yB, 1 - g.yde0 / H], anchor:xRef, side:'right',
    range:[Ybot, 0], autorange:false, fixedrange:true,
    tickmode:'array', tickvals:ydeTickVals, ticktext:ydeTickText, ticks:'outside', ticklen:5, tickcolor:SPINE,
    showline:true, linecolor:SPINE, linewidth:1, showgrid:false, zeroline:false,
    tickfont:tickFont, ticklabelstandoff:5
  };
  // light frame above the y/d_e spine
  layout['yaxis' + nF] = {
    domain:[1 - g.yde0 / H, yT], anchor:xRef, side:'right', range:[0,1], autorange:false, fixedrange:true,
    showline:true, linecolor:GRID, linewidth:1, showticklabels:false, ticks:'', showgrid:false, zeroline:false
  };
  // empty traces so that the scale-only subplots get drawn
  [nE, nR, nF].forEach(k => traces.push({type:'scatter', mode:'lines', x:[], y:[], xaxis:xRef, yaxis:'y' + k, hoverinfo:'skip'}));

  p.data.forEach((vals, r) => {
    if (vals.length !== freq.length) bad.push(p.row + (i % 4 + 1) + ' row ' + r + ': ' + vals.length);
    const base = (Ybot - ydeRows[r]) / (Ybot - Ytop) * Etop;
    traces.push({
      type:'scatter', mode:'lines', xaxis:xRef, yaxis:yRef,
      x: freq.concat(freq.slice().reverse()),
      y: vals.map(v => base + v).concat(freq.map(() => base)),
      fill:'toself', fillcolor:FILL, line:{color:LINE, width:1}, hoverinfo:'skip'
    });
  });

  const cx = (p.left + PW / 2) / W;
  layout.annotations.push(
    {xref:'paper', yref:'paper', x:cx, y:1 - g.titleY / H, showarrow:false, xanchor:'center', yanchor:'middle',
     text:'<i>Re</i><sub><i>d</i></sub> = ' + p.re, font:{family:FONT, size:21, color:TXT}},
    {xref:'paper', yref:'paper', x:cx, y:1 - g.xTitleY / H, showarrow:false, xanchor:'center', yanchor:'middle',
     text:'<i>f</i>  (Hz)', font:{family:FONT, size:19, color:TXT}},
    {xref:'paper', yref:'paper', x:p.labX / W, y:1 - (p.labY || g.eLabY) / H, showarrow:false, xanchor:'center', yanchor:'middle',
     textangle:-90, text:p.lab, font:{family:FONT, size:19, color:TXT}},
    {xref:'paper', yref:'paper', x:(p.left + PW + 27) / W, y:1 - g.ydeLabY / H, showarrow:false, xanchor:'center', yanchor:'middle',
     textangle:-90, text:'<i>y</i>/<i>d</i><sub><i>e</i></sub>', font:{family:FONT, size:19, color:TXT}}
  );
});

['a','b'].forEach(k => {
  const g = rowsGeom[k];
  layout.annotations.push({xref:'paper', yref:'paper', x:512 / W, y:1 - g.capY / H, showarrow:false,
    xanchor:'center', yanchor:'middle', text:g.cap, font:{family:FONT, size:18, color:TXT}});
});
// f = f(Re) marker in the first panel
layout.annotations.push(
  {xref:'paper', yref:'paper', x:136 / W, y:1 - 70 / H, showarrow:false, xanchor:'center', yanchor:'middle',
   text:'<i>f</i> = <i>f</i>(<i>Re</i>)', font:{family:FONT, size:18, color:TXT}},
  {xref:'paper', yref:'paper', x:124 / W, y:1 - 103 / H, showarrow:true, ax:0, ay:-19, axref:'pixel', ayref:'pixel',
   arrowhead:2, arrowsize:0.9, arrowwidth:1, arrowcolor:'#333', text:'', standoff:0}
);
if (bad.length) {
  layout.annotations.push({xref:'paper', yref:'paper', x:0, y:0, xanchor:'left', yanchor:'bottom', showarrow:false,
    text:'LEN: ' + bad.join('; '), font:{size:10, color:'red'}});
}

Plotly.newPlot('chart', traces, layout, {displayModeBar:false, staticPlot:true});
</script>
</body>
</html>
